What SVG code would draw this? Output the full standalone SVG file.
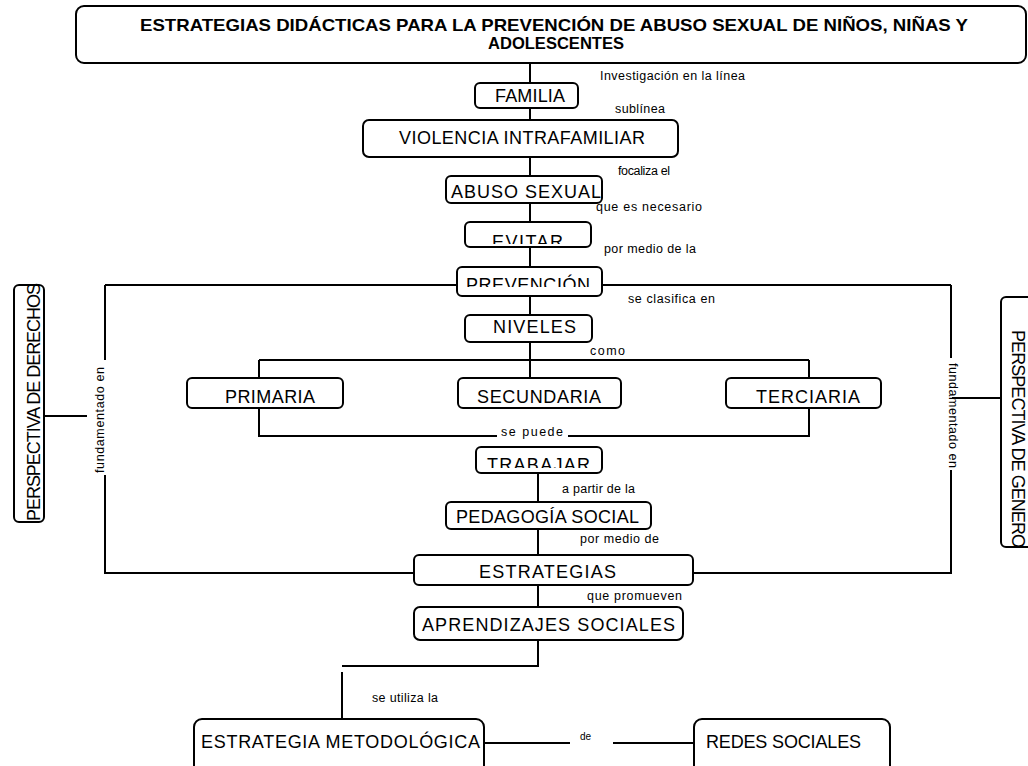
<svg xmlns="http://www.w3.org/2000/svg" width="1028" height="766" viewBox="0 0 1028 766">
<style>
.box{fill:#fff;stroke:#000;stroke-width:2}
.ln{fill:none;stroke:#000;stroke-width:2}
.t{font-family:"Liberation Sans",Arial,sans-serif;font-size:18px;fill:#000}
.lb{font-family:"Liberation Sans",Arial,sans-serif;font-size:12.5px;fill:#000}
.ti{font-family:"Liberation Sans",Arial,sans-serif;font-size:17px;font-weight:bold;fill:#000}
</style>
<defs>
<clipPath id="cEv"><rect x="465" y="222" width="126" height="22"/></clipPath>
<clipPath id="cPr"><rect x="457" y="267" width="145" height="20"/></clipPath>
<clipPath id="cTr"><rect x="476" y="447" width="126" height="21"/></clipPath>
</defs>
<g id="connectors">
<path class="ln" d="M530 63V83M530 108V138M530 157V176M530 203V222M530 247V267M530 296V315M530 342V378"/>
<path class="ln" d="M259 360H809M259 360V378M809 360V378M259 408V436H497M568 436H809V408"/>
<path class="ln" d="M105 285H457M602 285H951"/>
<path class="ln" d="M105 285V360M105 475V573H414M951 285V358M951 470V573H693"/>
<path class="ln" d="M44 416H87M952 398H1001"/>
<path class="ln" d="M538 473V502M538 529V555M538 585V620M538 640V666H342M342 672V719"/>
<path class="ln" d="M484 743H570M613 743H694"/>
<text class="lb" x="600" y="80" textLength="145">Investigación en la línea</text>
<text class="lb" x="615" y="113" textLength="50">sublínea</text>
<text class="lb" x="618" y="175" textLength="52">focaliza el</text>
<text class="lb" x="596" y="211" textLength="106">que es necesario</text>
<text class="lb" x="604" y="253" textLength="92">por medio de la</text>
<text class="lb" x="628" y="303" textLength="87">se clasifica en</text>
<text class="lb" x="590" y="355" textLength="35">como</text>
<text class="lb" x="501" y="436" textLength="62">se puede</text>
<text class="lb" x="562" y="493" textLength="73">a partir de la</text>
<text class="lb" x="580" y="543" textLength="79">por medio de</text>
<text class="lb" x="587" y="600" textLength="95">que promueven</text>
<text class="lb" x="372" y="702" textLength="66">se utiliza la</text>
<text class="lb" x="580" y="740" style="font-size:10px">de</text>
<text class="lb" transform="translate(104,473) rotate(-90)" textLength="106">fundamentado en</text>
<text class="lb" transform="translate(949,363) rotate(90)" textLength="105">fundamentado en</text>
</g>
<g id="title">
<rect class="box" x="76" y="6" width="950" height="57" rx="8"/>
<text class="ti" x="554" y="31" text-anchor="middle" textLength="828" lengthAdjust="spacingAndGlyphs">ESTRATEGIAS DIDÁCTICAS PARA LA PREVENCIÓN DE ABUSO SEXUAL DE NIÑOS, NIÑAS Y</text>
<text class="ti" x="556" y="49" text-anchor="middle" textLength="136" lengthAdjust="spacingAndGlyphs">ADOLESCENTES</text>
</g>
<g id="familia">
<rect class="box" x="475" y="83" width="103" height="25" rx="5"/>
<text class="t" x="495" y="102" textLength="70">FAMILIA</text>
</g>
<g id="violencia">
<rect class="box" x="363" y="120" width="315" height="37" rx="6"/>
<text class="t" x="399" y="144" textLength="246">VIOLENCIA INTRAFAMILIAR</text>
</g>
<g id="abuso">
<rect class="box" x="446" y="176" width="156" height="27" rx="5"/>
<text class="t" x="451" y="198" textLength="150">ABUSO SEXUAL</text>
</g>
<g id="evitar">
<rect class="box" x="465" y="222" width="126" height="25" rx="5"/>
<text class="t" x="492" y="248" textLength="71" clip-path="url(#cEv)">EVITAR</text>
</g>
<g id="prevencion">
<rect class="box" x="457" y="267" width="145" height="29" rx="5"/>
<text class="t" x="466" y="291" textLength="124" clip-path="url(#cPr)">PREVENCIÓN</text>
</g>
<g id="niveles">
<rect class="box" x="465" y="315" width="127" height="27" rx="5"/>
<text class="t" x="493" y="333" textLength="83">NIVELES</text>
</g>
<g id="primaria">
<rect class="box" x="187" y="378" width="156" height="30" rx="5"/>
<text class="t" x="225" y="403" textLength="90">PRIMARIA</text>
</g>
<g id="secundaria">
<rect class="box" x="458" y="378" width="163" height="30" rx="5"/>
<text class="t" x="477" y="403" textLength="124">SECUNDARIA</text>
</g>
<g id="terciaria">
<rect class="box" x="726" y="378" width="155" height="30" rx="5"/>
<text class="t" x="756" y="403" textLength="104">TERCIARIA</text>
</g>
<g id="trabajar">
<rect class="box" x="476" y="447" width="126" height="26" rx="5"/>
<text class="t" x="487" y="471" textLength="103" clip-path="url(#cTr)">TRABAJAR</text>
</g>
<g id="pedagogia">
<rect class="box" x="446" y="502" width="205" height="27" rx="5"/>
<text class="t" x="456" y="523" textLength="183">PEDAGOGÍA SOCIAL</text>
</g>
<g id="estrategias">
<rect class="box" x="414" y="555" width="279" height="30" rx="5"/>
<text class="t" x="479" y="578" textLength="137">ESTRATEGIAS</text>
</g>
<g id="aprendizajes">
<rect class="box" x="414" y="607" width="269" height="33" rx="6"/>
<text class="t" x="422" y="631" textLength="253">APRENDIZAJES  SOCIALES</text>
</g>
<g id="metodologica">
<rect class="box" x="194" y="719" width="290" height="60" rx="8"/>
<text class="t" x="201" y="748" textLength="279">ESTRATEGIA METODOLÓGICA</text>
</g>
<g id="redes">
<rect class="box" x="694" y="719" width="196" height="60" rx="8"/>
<text class="t" x="706" y="748" textLength="155">REDES SOCIALES</text>
</g>
<g id="derechos">
<rect class="box" x="14" y="285" width="30" height="237" rx="5"/>
<text class="t" transform="translate(40,521) rotate(-90)" textLength="238">PERSPECTIVA DE DERECHOS</text>
</g>
<g id="genero">
<rect class="box" x="1001" y="297" width="40" height="250" rx="5"/>
<text class="t" transform="translate(1012,330) rotate(90)" textLength="218">PERSPECTIVA DE GENERO</text>
</g>
</svg>
